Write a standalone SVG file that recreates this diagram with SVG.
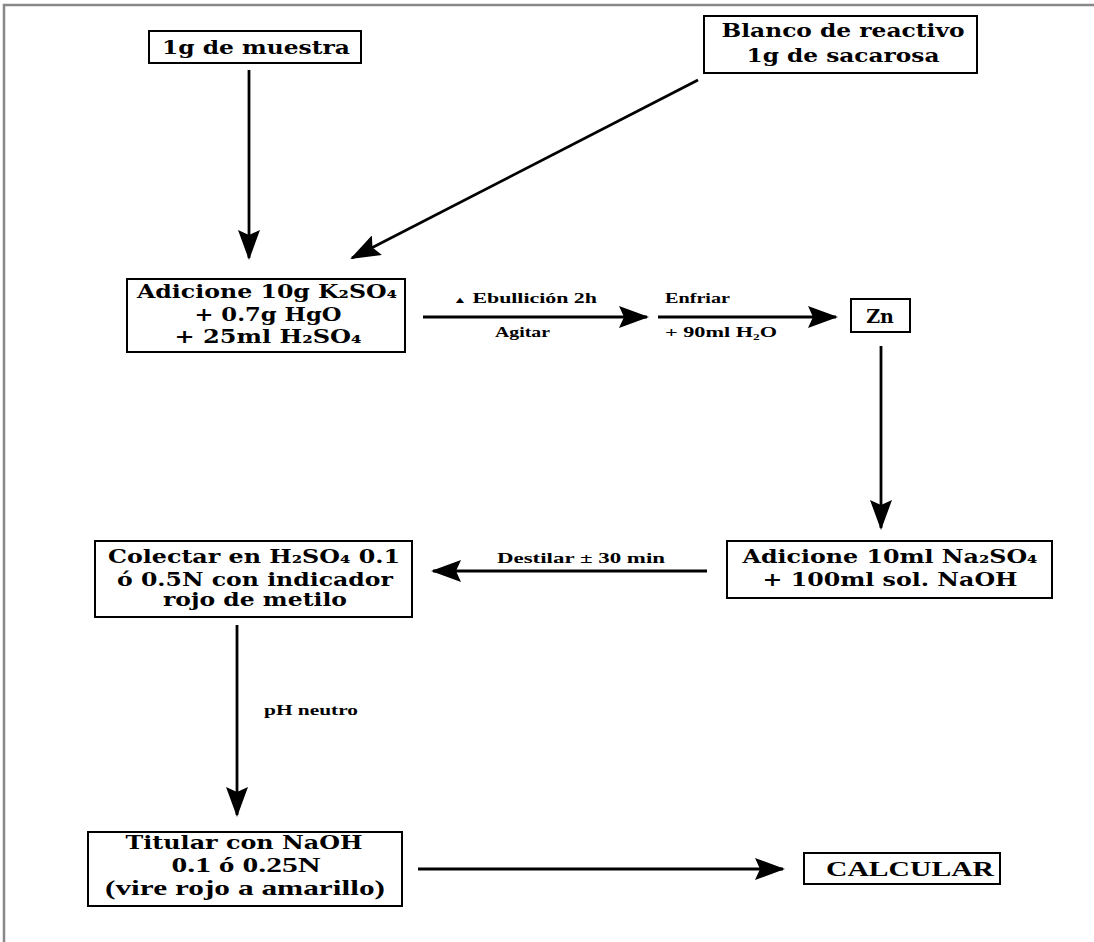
<svg xmlns="http://www.w3.org/2000/svg" width="1094" height="942" viewBox="0 0 1094 942">
<defs>
<marker id="ah" viewBox="0 0 30 22" refX="28" refY="11" markerWidth="30" markerHeight="22" markerUnits="userSpaceOnUse" orient="auto">
<path d="M0,0 L30,11 L0,22 L5,11 z" fill="#000"/>
</marker>
<style>
.box{fill:#fff;stroke:#000;stroke-width:2}
.t{font-family:"DejaVu Serif","Liberation Serif",serif;font-weight:bold;font-size:19px;fill:#000;text-anchor:middle}
.tt{font-family:"Liberation Serif","DejaVu Serif",serif;font-weight:bold;font-size:21px;fill:#000;text-anchor:middle}
.lb{font-family:"Liberation Serif","DejaVu Serif",serif;font-weight:bold;font-size:14px;fill:#000}
.c{stroke:#000;stroke-width:2.8;fill:none;marker-end:url(#ah)}
.frame{stroke:#888;stroke-width:2.5;fill:none}
</style>
</defs>
<rect width="1094" height="942" fill="#fff"/>
<path class="frame" d="M4,942 L4,5 L1094,5"/>

<g id="n-muestra">
<rect class="box" x="149" y="31" width="212" height="32"/>
<text class="t" x="256" y="54" textLength="188" lengthAdjust="spacingAndGlyphs">1g de muestra</text>
</g>
<g id="n-blanco">
<rect class="box" x="704" y="16" width="273" height="57"/>
<text class="t" x="843" y="37" textLength="243" lengthAdjust="spacingAndGlyphs">Blanco de reactivo</text>
<text class="t" x="843" y="62" textLength="193" lengthAdjust="spacingAndGlyphs">1g de sacarosa</text>
</g>
<g id="n-adicione1">
<rect class="box" x="127" y="279" width="278" height="73"/>
<text class="t" x="267" y="298" textLength="260" lengthAdjust="spacingAndGlyphs">Adicione 10g K₂SO₄</text>
<text class="t" x="268" y="321" textLength="147" lengthAdjust="spacingAndGlyphs">+ 0.7g HgO</text>
<text class="t" x="268" y="343" textLength="187" lengthAdjust="spacingAndGlyphs">+ 25ml H₂SO₄</text>
</g>
<g id="n-zn">
<rect class="box" x="851" y="299" width="59" height="33"/>
<text class="t" x="880" y="323">Zn</text>
</g>
<g id="n-adicione2">
<rect class="box" x="727" y="541" width="325" height="57"/>
<text class="t" x="890" y="563" textLength="295" lengthAdjust="spacingAndGlyphs">Adicione 10ml Na₂SO₄</text>
<text class="t" x="890" y="586" textLength="255" lengthAdjust="spacingAndGlyphs">+ 100ml sol. NaOH</text>
</g>
<g id="n-colectar">
<rect class="box" x="95" y="541" width="317" height="76"/>
<text class="t" x="254" y="563" textLength="292" lengthAdjust="spacingAndGlyphs">Colectar en H₂SO₄ 0.1</text>
<text class="t" x="255" y="586" textLength="276" lengthAdjust="spacingAndGlyphs">ó 0.5N con indicador</text>
<text class="t" x="255" y="606" textLength="184" lengthAdjust="spacingAndGlyphs">rojo de metilo</text>
</g>
<g id="n-titular">
<rect class="box" x="88" y="832" width="314" height="74"/>
<text class="t" x="244" y="849" textLength="237" lengthAdjust="spacingAndGlyphs">Titular con NaOH</text>
<text class="tt" x="246" y="872" textLength="149" lengthAdjust="spacingAndGlyphs">0.1 ó 0.25N</text>
<text class="tt" x="245" y="895" textLength="280" lengthAdjust="spacingAndGlyphs">(vire rojo a amarillo)</text>
</g>
<g id="n-calcular">
<rect class="box" x="804" y="853" width="196" height="31"/>
<text class="tt" x="910" y="876" textLength="168" lengthAdjust="spacingAndGlyphs">CALCULAR</text>
</g>

<g id="connectors">
<line class="c" x1="249" y1="70" x2="249" y2="258"/>
<line class="c" x1="698" y1="80" x2="352" y2="258"/>
<line class="c" x1="423" y1="317" x2="647" y2="317"/>
<line class="c" x1="658" y1="317" x2="836" y2="317"/>
<line class="c" x1="881" y1="346" x2="881" y2="528"/>
<line class="c" x1="707" y1="571" x2="433" y2="571"/>
<line class="c" x1="237" y1="625" x2="237" y2="815"/>
<line class="c" x1="418" y1="869" x2="783" y2="869"/>
<text class="lb" x="453" y="303" textLength="144" lengthAdjust="spacingAndGlyphs"><tspan font-size="9">▲</tspan> Ebullición 2h</text>
<text class="lb" x="495" y="337" textLength="55" lengthAdjust="spacingAndGlyphs">Agitar</text>
<text class="lb" x="665" y="303" textLength="65" lengthAdjust="spacingAndGlyphs">Enfriar</text>
<text class="lb" x="665" y="337" textLength="112" lengthAdjust="spacingAndGlyphs">+ 90ml H₂O</text>
<text class="lb" x="497" y="563" textLength="168" lengthAdjust="spacingAndGlyphs">Destilar ± 30 min</text>
<text class="lb" x="264" y="715" textLength="94" lengthAdjust="spacingAndGlyphs">pH neutro</text>
</g>
</svg>
